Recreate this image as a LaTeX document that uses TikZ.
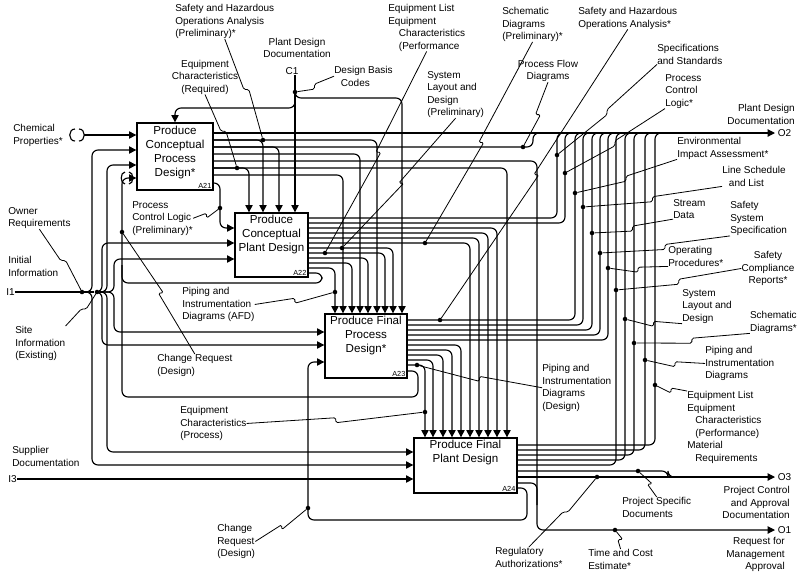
\documentclass[tikz,border=0pt]{standalone}
\usepackage{fontspec}
\setmainfont{Liberation Sans}
\usepackage{tikz}
\usetikzlibrary{arrows.meta,positioning,calc}

% leader line with a small jog half way
\newcommand{\squig}[3][0,5]{%
  \draw[leader] (#2) -- ($(#2)!.5!(#3)$) -- ($(#2)!.5!(#3)+(#1)$) -- (#3);}

\begin{document}
\begin{tikzpicture}[
  x=0.75pt, y=-0.75pt,
  wire/.style={line width=0.85pt,rounded corners=4.5pt},
  arr/.style={wire,-{Triangle[length=5.5pt,width=5.5pt]}},
  proc/.style={draw,line width=1pt,inner sep=0pt},
  boxtxt/.style={font=\fontsize{8.7}{10.6}\selectfont,align=center,inner sep=0pt},
  tag/.style={font=\fontsize{5.5}{6}\selectfont,inner sep=1.5pt,anchor=south east},
  lbl/.style={font=\fontsize{7.5}{9.4}\selectfont,align=left,inner sep=0pt},
  olbl/.style={lbl,inner sep=2pt,anchor=west},
  dot/.style={circle,fill,inner sep=0pt,minimum size=3.4pt},
  leader/.style={line width=0.6pt,rounded corners=1.2pt}
]
  \useasboundingbox (0,0) rectangle (800,587);

  % activity boxes
  \node[proc,minimum width=57pt,minimum height=50.25pt] (a21) at (175,156.5) {};
  \node[boxtxt,below=2.5pt of a21.north] (t21) {Produce\\Conceptual\\Process\\Design*};
  \node[tag] (g21) at (a21.south east) {A21};
  \node[proc,minimum width=54.75pt,minimum height=48pt] (a22) at (271.5,245) {};
  \node[boxtxt,below=2pt of a22.north] (t22) {Produce\\Conceptual\\Plant Design};
  \node[tag] (g22) at (a22.south east) {A22};
  \node[proc,minimum width=61.5pt,minimum height=48pt] (a23) at (366,346) {};
  \node[boxtxt,below=2pt of a23.north] (t23) {Produce Final\\Process\\Design*};
  \node[tag] (g23) at (a23.south east) {A23};
  \node[proc,minimum width=77.25pt,minimum height=41.25pt] (a24) at (465.5,465.5) {};
  \node[boxtxt,below=2pt of a24.north] (t24) {Produce Final\\Plant Design};
  \node[tag] (g24) at (a24.south east) {A24};

  % boundary labels
  \node[lbl,align=center] (lPDD1) at (297,48) {Plant Design\\Documentation};
  \node[lbl] (lC1) at (292,71) {C1};
  \node[lbl,anchor=west] (lI1) at (6,292) {I1};
  \node[lbl,anchor=west] (lI3) at (8,479) {I3};
  \node[olbl] (lO2) at (775,133) {O2};
  \node[olbl] (lO3) at (775,477) {O3};
  \node[olbl] (lO1) at (775,530) {O1};
  \node[lbl,align=right,anchor=north east] (lPDD2) at (795,104) {Plant Design\\Documentation};
  \node[lbl,align=right,anchor=north east] (lPCAD) at (790,486) {Project Control\\and Approval\\Documentation};
  \node[lbl,align=right,anchor=north east] (lRMA) at (785,537) {Request for\\Management\\Approval};

  % dots
  \node[dot] (dC1) at (295,92) {};
  \node[dot] (dI1a) at (82,292) {};
  \node[dot] (dI1b) at (97,292) {};
  \node[dot] (dSafPre) at (263,140) {};
  \node[dot] (dEqReq) at (237,168) {};
  \node[dot] (dPCLp) at (220,208) {};
  \node[dot] (dEqPerf) at (325,253) {};
  \node[dot] (dSysPre) at (342,248) {};
  \node[dot] (dSchPre) at (425,243) {};
  \node[dot] (dPIDa) at (335,292) {};
  \node[dot] (dPFD) at (523,147) {};
  \node[dot] (dSafHaz) at (440,320) {};
  \node[dot] (dSpec) at (557,155) {};
  \node[dot] (dPCL) at (565,173) {};
  \node[dot] (dEnv) at (575,193) {};
  \node[dot] (dLine) at (583,207) {};
  \node[dot] (dStream) at (592,233) {};
  \node[dot] (dSSS) at (600,253) {};
  \node[dot] (dOP) at (608,268) {};
  \node[dot] (dSCR) at (616,290) {};
  \node[dot] (dSLD) at (625,319) {};
  \node[dot] (dSch) at (634,343) {};
  \node[dot] (dPID) at (645,360) {};
  \node[dot] (dEqMat) at (655,385) {};
  \node[dot] (dPSD) at (638,471) {};
  \node[dot] (dReg) at (597,477) {};
  \node[dot] (dTCE) at (615,530) {};
  \node[dot] (dCR1) at (122,232) {};
  \node[dot] (dCR2) at (308,508) {};
  \node[dot] (dEqProc) at (425,412) {};
  \node[dot] (dPIDd) at (417,365) {};

  % control C1
  \draw[arr] (lC1.south -| dC1) -- (a22.north -| dC1);
  \draw[arr] (dC1) |- (a21.north |- 0,108) -- (a21.north);
  \draw[arr] (dC1) |- (402,98) -- (a23.north -| 402,0);

  % inputs
  \draw[wire] (75,129) .. controls (68,129) and (68,141) .. (75,141);
  \draw[wire] (79,129) .. controls (86,129) and (86,141) .. (79,141);
  \draw[arr] (84,135) -- (a21.west |- 0,135);
  \draw[wire] (lI1.east) -- (dI1b);
  \draw[arr] (dI1a) -| (92,150) -- (a21.west |- 0,150);
  \draw[arr] (dI1a) -| (92,465) -- (a24.west |- 0,465);
  \draw[arr] (dI1b) -| (107,165) -- (a21.west |- 0,165);
  \draw[arr] (dI1b) -| (107,452) -- (a24.west |- 0,452);
  \draw[arr] (dI1b) -| (102,243) -- (a22.west |- 0,243);
  \draw[arr] (dI1b) -| (114,259) -- (a22.west |- 0,259);
  \draw[arr] (dI1b) -| (114,332) -- (a23.west |- 0,332);
  \draw[arr] (dI1b) -| (102,345) -- (a23.west |- 0,345);
  \draw[arr] (lI3.east) -- (a24.west |- lI3.east);

  % A21 outputs
  \draw[arr] (a21.east |- 0,133) -- (lO2.west);
  \draw[arr] (a21.east |- 0,140) -| (a23.north -| 377,0);
  \draw[arr] (a21.east |- 0,140) -| (a22.north -| 263,0);
  \draw[arr] (a21.east |- 0,147) -| (a22.north -| 279,0);
  \draw[wire] (a21.east |- 0,147) -| (533,133) -- ++(8,0);
  \draw[arr] (a21.east |- 0,154) -| (a23.north -| 360,0);
  \draw[arr] (a21.east |- 0,161) -| (537,530) -- (lO1.west);
  \draw[arr] (a21.east |- 0,168) -| (a24.north -| 507,0);
  \draw[arr] (a21.east |- 0,168) -| (a22.north -| 249,0);
  \draw[arr] (a21.east |- 0,175) -| (a23.north -| 343,0);
  \draw[arr] (a21.east |- 0,183) -| (220,228) -- (a22.west |- 0,228);

  % A22 outputs
  \foreach \y/\x in {218/557,223/565}
    \draw[wire] (a22.east |- 0,\y) -| (\x,133) -- ++(8,0);
  \foreach \y/\x in {228/497,233/488,238/479,243/470}
    \draw[arr] (a22.east |- 0,\y) -| (a24.north -| \x,0);
  \foreach \y/\x in {248/393,253/385,258/368,263/352,268/335}
    \draw[arr] (a22.east |- 0,\y) -| (a23.north -| \x,0);
  \draw[wire] (a22.east |- 0,273) -| (322,283) -| (122,265);

  % A23 outputs
  \foreach \y/\x in {320/575,325/583,330/592,335/600,340/608}
    \draw[wire] (a23.east |- 0,\y) -| (\x,133) -- ++(8,0);
  \foreach \y/\x in {345/461,350/452,355/443,360/433,365/425}
    \draw[arr] (a23.east |- 0,\y) -| (a24.north -| \x,0);
  \draw[arr] (a23.east |- 0,371) -| (418,397) -| (122,178) -- (a21.west |- 0,178);
  \draw[wire] (125,172) .. controls (120,172) and (120,184) .. (125,184);
  \draw[wire] (129,172) .. controls (134,172) and (134,184) .. (129,184);

  % A24 outputs
  \foreach \y/\x in {445/655,450/645,455/634,460/625,465/616}
    \draw[wire] (a24.east |- 0,\y) -| (\x,133) -- ++(8,0);
  \draw[wire] (a24.east |- 0,471) -| (668,477) -- ++(8,0);
  \draw[arr] (a24.east |- 0,477) -- (lO3.west);
  \draw[wire] (a24.east |- 0,483) -| (537,505);
  \draw[arr] (a24.east |- 0,488) -| (527,520) -| (308,362) -- (a23.west |- 0,362);

  % labels, left and top
  \node[lbl,anchor=north west] (lChem) at (13,124) {Chemical\\Properties*};
  \node[lbl,anchor=north west] (lOwn) at (8,207) {Owner\\Requirements};
  \node[lbl,anchor=north west] (lInit) at (8,256) {Initial\\Information};
  \node[lbl,anchor=north west] (lSite) at (15,326) {Site\\Information\\(Existing)};
  \node[lbl,anchor=north west] (lSup) at (12,446) {Supplier\\Documentation};
  \node[lbl,anchor=north west] (lSafPre) at (175,4) {Safety and Hazardous\\Operations Analysis\\(Preliminary)*};
  \node[lbl,align=center] (lEqReq) at (205,77) {Equipment\\Characteristics\\(Required)};
  \node[lbl,anchor=north west] (lDBC) at (334,66) {Design Basis\\\hspace*{5pt}Codes};
  \node[lbl,anchor=north west] (lEqPerf) at (388,4) {Equipment List\\Equipment\\\hspace*{8pt}Characteristics\\\hspace*{8pt}(Performance};
  \node[lbl,anchor=north west] (lSysPre) at (427,71) {System\\Layout and\\Design\\(Preliminary)};
  \node[lbl,anchor=north west] (lSchPre) at (502,7) {Schematic\\Diagrams\\(Preliminary)*};
  \node[lbl,align=center] (lPFD) at (548,71) {Process Flow\\Diagrams};
  \node[lbl,anchor=north west] (lSafHaz) at (578,7) {Safety and Hazardous\\Operations Analysis*};
  \node[lbl,anchor=north west] (lSpec) at (657,44) {Specifications\\and Standards};
  \node[lbl,anchor=north west] (lPCL) at (665,74) {Process\\Control\\Logic*};
  \node[lbl,anchor=north west] (lPCLp) at (132,201) {Process\\Control Logic\\(Preliminary)*};
  \node[lbl,anchor=north west] (lPIDa) at (182,287) {Piping and\\Instrumentation\\Diagrams (AFD)};
  \node[lbl,anchor=north west] (lCR1) at (157,354) {Change Request\\(Design)};
  \node[lbl,anchor=north west] (lEqProc) at (180,406) {Equipment\\Characteristics\\(Process)};
  \node[lbl,anchor=north west] (lCR2) at (217,524) {Change\\Request\\(Design)};
  \node[lbl,anchor=north west] (lPIDd) at (542,364) {Piping and\\Instrumentation\\Diagrams\\(Design)};

  % labels, right
  \node[lbl,anchor=north west] (lEnv) at (677,137) {Environmental\\Impact Assessment*};
  \node[lbl,anchor=north west] (lLine) at (722,166) {Line Schedule\\\hspace*{5pt}and List};
  \node[lbl,anchor=north west] (lStream) at (673,199) {Stream\\Data};
  \node[lbl,anchor=north west] (lSSS) at (730,201) {Safety\\System\\Specification};
  \node[lbl,anchor=north west] (lOP) at (668,246) {Operating\\Procedures*};
  \node[lbl,align=center,anchor=north] (lSCR) at (768,251) {Safety\\Compliance\\Reports*};
  \node[lbl,anchor=north west] (lSLD) at (682,289) {System\\Layout and\\Design};
  \node[lbl,align=right,anchor=north east] (lSch) at (797,311) {Schematic\\Diagrams*};
  \node[lbl,anchor=north west] (lPID) at (705,346) {Piping and\\Instrumentation\\Diagrams};
  \node[lbl,anchor=north west] (lEqMat) at (687,391) {Equipment List\\Equipment\\\hspace*{6pt}Characteristics\\\hspace*{6pt}(Performance)\\Material\\\hspace*{6pt}Requirements};
  \node[lbl,anchor=north west] (lPSD) at (622,497) {Project Specific\\Documents};
  \node[lbl,anchor=north west] (lReg) at (495,547) {Regulatory\\Authorizations*};
  \node[lbl,anchor=north west] (lTCE) at (588,549) {Time and Cost\\Estimate*};

  % leaders
  \squig[5,0]{lSafPre.south}{dSafPre}
  \squig[5,0]{lEqReq.south}{dEqReq}
  \squig{lDBC.west}{dC1}
  \squig[5,0]{lEqPerf.south}{dEqPerf}
  \squig[5,0]{lSysPre.south}{dSysPre}
  \squig[5,0]{lSchPre.south}{dSchPre}
  \squig[5,0]{lPFD.south}{dPFD}
  \squig[5,0]{lSafHaz.south}{dSafHaz}
  \squig{lSpec.south west}{dSpec}
  \squig{lPCL.south west}{dPCL}
  \squig{lEnv.south west}{dEnv}
  \squig{lLine.south west}{dLine}
  \squig{lStream.south west}{dStream}
  \squig{lSSS.south west}{dSSS}
  \squig{lOP.south west}{dOP}
  \squig{lSCR.west}{dSCR}
  \squig{lSLD.south west}{dSLD}
  \squig{lSch.south west}{dSch}
  \squig{lPID.west}{dPID}
  \squig{lEqMat.north west}{dEqMat}
  \squig[5,0]{lPSD.north}{dPSD}
  \squig[5,0]{lReg.north}{dReg}
  \squig[5,0]{lTCE.north}{dTCE}
  \squig[5,0]{lOwn.south}{dI1a}
  \squig[5,0]{lSite.north east}{dI1b}
  \squig{lPCLp.east}{dPCLp}
  \squig{lPIDa.east}{dPIDa}
  \squig[5,0]{lCR1.north}{dCR1}
  \squig{lEqProc.east}{dEqProc}
  \squig{lCR2.east}{dCR2}
  \squig{lPIDd.west}{dPIDd}
\end{tikzpicture}
\end{document}
